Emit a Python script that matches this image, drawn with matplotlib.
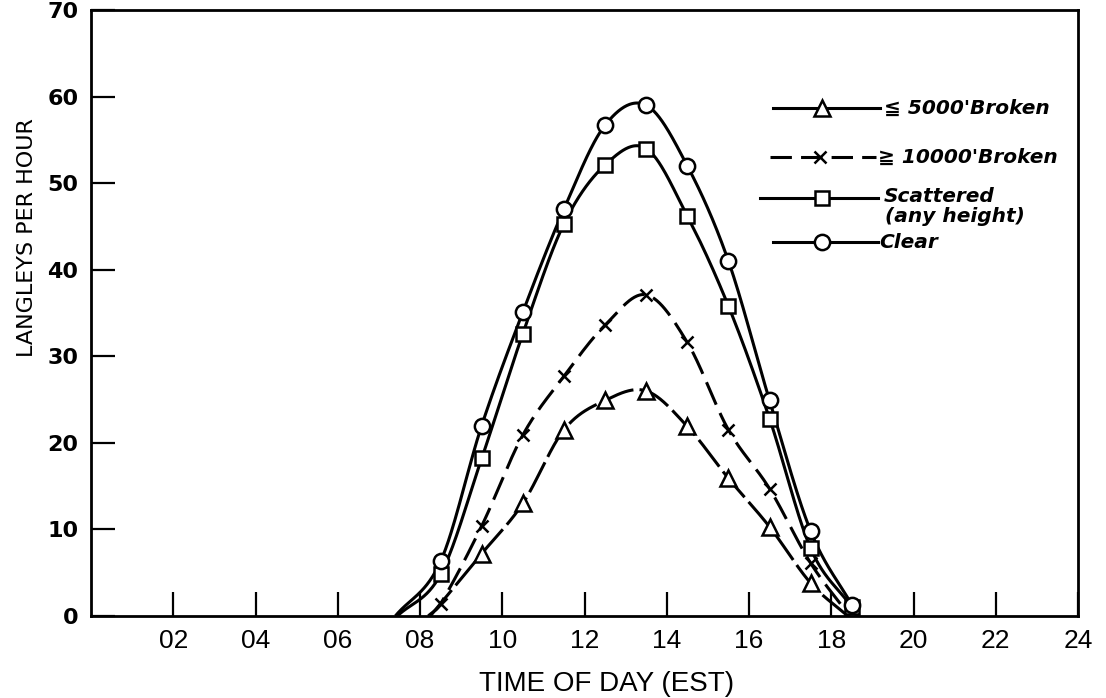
import numpy as np
import matplotlib
matplotlib.use("Agg")
import matplotlib.pyplot as plt

# ---------------- data ----------------
hours = [8.5, 9.5, 10.5, 11.5, 12.5, 13.5, 14.5, 15.5, 16.5, 17.5, 18.5]

clear_vals = [6.3, 22.0, 35.1, 47.0, 56.7, 59.0, 52.0, 41.0, 24.9, 9.8, 1.3]
scattered_vals = [4.8, 18.2, 32.6, 45.3, 52.1, 54.0, 46.2, 35.8, 22.8, 7.8, 1.0]
high_broken_hours = [8.5, 9.5, 10.5, 11.5, 12.5, 13.5, 14.5, 15.5, 16.5, 17.5]
high_broken_vals = [1.4, 10.4, 20.9, 27.7, 33.6, 37.1, 31.6, 21.5, 14.7, 6.1]
low_broken_hours = [9.5, 10.5, 11.5, 12.5, 13.5, 14.5, 15.5, 16.5, 17.5]
low_broken_vals = [7.2, 13.0, 21.5, 24.9, 26.0, 21.9, 15.9, 10.3, 3.8]

# where each hand-drawn curve meets the zero line
clear_ends = (7.4, 18.68)
scattered_ends = (7.45, 18.62)
high_broken_ends = (8.2, 18.45)
low_broken_ends = (8.25, 18.4)

x_ticks = [2, 4, 6, 8, 10, 12, 14, 16, 18, 20, 22, 24]
x_tick_labels = ["02", "04", "06", "08", "10", "12", "14", "16", "18", "20", "22", "24"]
y_ticks = [0, 10, 20, 30, 40, 50, 60, 70]

labels = ["\u2266 5000'Broken", "\u2267 10000'Broken", "Scattered\n(any height)", "Clear"]


# ---------------- smooth curve helper (Catmull-Rom style cubic Hermite) ----------------
def smooth(x, y, n=500):
    x = np.asarray(x, float)
    y = np.asarray(y, float)
    k = len(x)
    h = np.diff(x)
    d = np.zeros(k)
    d[1:-1] = (y[2:] - y[:-2]) / (x[2:] - x[:-2])
    d[0] = (y[1] - y[0]) / h[0]
    d[-1] = (y[-1] - y[-2]) / h[-1]
    xs = np.linspace(x[0], x[-1], n)
    idx = np.clip(np.searchsorted(x, xs) - 1, 0, k - 2)
    hh = h[idx]
    t = (xs - x[idx]) / hh
    h00 = 2 * t ** 3 - 3 * t ** 2 + 1
    h10 = t ** 3 - 2 * t ** 2 + t
    h01 = -2 * t ** 3 + 3 * t ** 2
    h11 = t ** 3 - t ** 2
    ys = h00 * y[idx] + h10 * hh * d[idx] + h01 * y[idx + 1] + h11 * hh * d[idx + 1]
    return xs, np.clip(ys, 0, None)


def curve(hrs, vals, ends):
    return smooth([ends[0]] + list(hrs) + [ends[1]], [0] + list(vals) + [0])


# ---------------- figure ----------------
fig = plt.figure(figsize=(11.06, 6.98), dpi=100)
ax = fig.add_axes([91 / 1106, 1 - 616 / 698, (1078 - 91) / 1106, (616 - 10) / 698])

lw = 2.2
dash_low = (0, (11, 2.0))
dash_high = (0, (8, 3.0))
series = [
    (low_broken_hours, low_broken_vals, low_broken_ends, "^", dash_low, 11),
    (high_broken_hours, high_broken_vals, high_broken_ends, "x", dash_high, 9),
    (hours, scattered_vals, scattered_ends, "s", "-", 10),
    (hours, clear_vals, clear_ends, "o", "-", 11),
]

for hrs, vals, ends, mk, ls, ms in series:
    cx, cy = curve(hrs, vals, ends)
    ax.plot(cx, cy, color="black", lw=lw, ls=ls, zorder=2, solid_capstyle="butt")
    if mk == "x":
        ax.plot(hrs, vals, ls="none", marker=mk, ms=ms, mew=1.8, color="black", zorder=3)
    else:
        ax.plot(hrs, vals, ls="none", marker=mk, ms=ms, mew=1.8, mfc="white",
                mec="black", zorder=3)

ax.set_xlim(0, 24)
ax.set_ylim(0, 70)

ax.set_xticks(x_ticks)
ax.set_xticklabels(x_tick_labels)
ax.set_yticks(y_ticks)

for s in ax.spines.values():
    s.set_linewidth(2.0)

ax.tick_params(axis="both", direction="in", length=17, width=1.6, color="black")
ax.tick_params(axis="x", pad=9, labelsize=19)
ax.tick_params(axis="y", pad=9, labelsize=16)

for t in ax.get_xticklabels():
    t.set_fontfamily(["Liberation Sans", "DejaVu Sans"])
for t in ax.get_yticklabels():
    t.set_fontfamily(["DejaVu Sans"])
    t.set_fontweight("bold")

ax.set_xlabel("TIME OF DAY (EST)", fontsize=20, family=["Liberation Sans", "DejaVu Sans"])
ax.xaxis.set_label_coords(0.522, -0.09)
ax.set_ylabel("LANGLEYS PER HOUR", fontsize=16, family=["DejaVu Sans"])
ax.yaxis.set_label_coords(-0.055, 0.625)

# ---------------- hand-placed legend (as in the original drawing) ----------------
def fx(px):
    return (px - 91) / 987


def fy(py):
    return (616 - py) / 606


legend_rows = [
    # (line x0, line x1, marker x, y, text x, marker, linestyle, ms)
    (773, 880, 822, 108, 884, "^", "-", 11),
    (770, 876, 820, 157, 878, "x", (0, (7, 3)), 9),
    (760, 878, 822, 198, 884, "s", "-", 10),
    (773, 878, 822, 242, 879, "o", "-", 11),
]
text_style = dict(family=["DejaVu Sans"], style="italic", weight="bold", fontsize=14.5,
                  va="center", ha="left", transform=ax.transAxes)
for (x0, x1, xm, yy, xt, mk, ls, ms), lab in zip(legend_rows, labels):
    ax.plot([fx(x0), fx(x1)], [fy(yy), fy(yy)], color="black", lw=lw, ls=ls,
            transform=ax.transAxes, clip_on=False, zorder=4)
    if mk == "x":
        ax.plot([fx(xm)], [fy(yy)], marker=mk, ms=ms, mew=1.8, color="black",
                transform=ax.transAxes, clip_on=False, zorder=5)
    else:
        ax.plot([fx(xm)], [fy(yy)], marker=mk, ms=ms, mew=1.8, mfc="white", mec="black",
                transform=ax.transAxes, clip_on=False, zorder=5)
    if "\n" in lab:
        l1, l2 = lab.split("\n")
        ax.text(fx(xt), fy(yy - 2), l1, **text_style)
        ax.text(fx(xt + 1), fy(yy + 19), l2, **text_style)
    else:
        ax.text(fx(xt), fy(yy), lab, **text_style)

fig.savefig("out.png", dpi=100)
